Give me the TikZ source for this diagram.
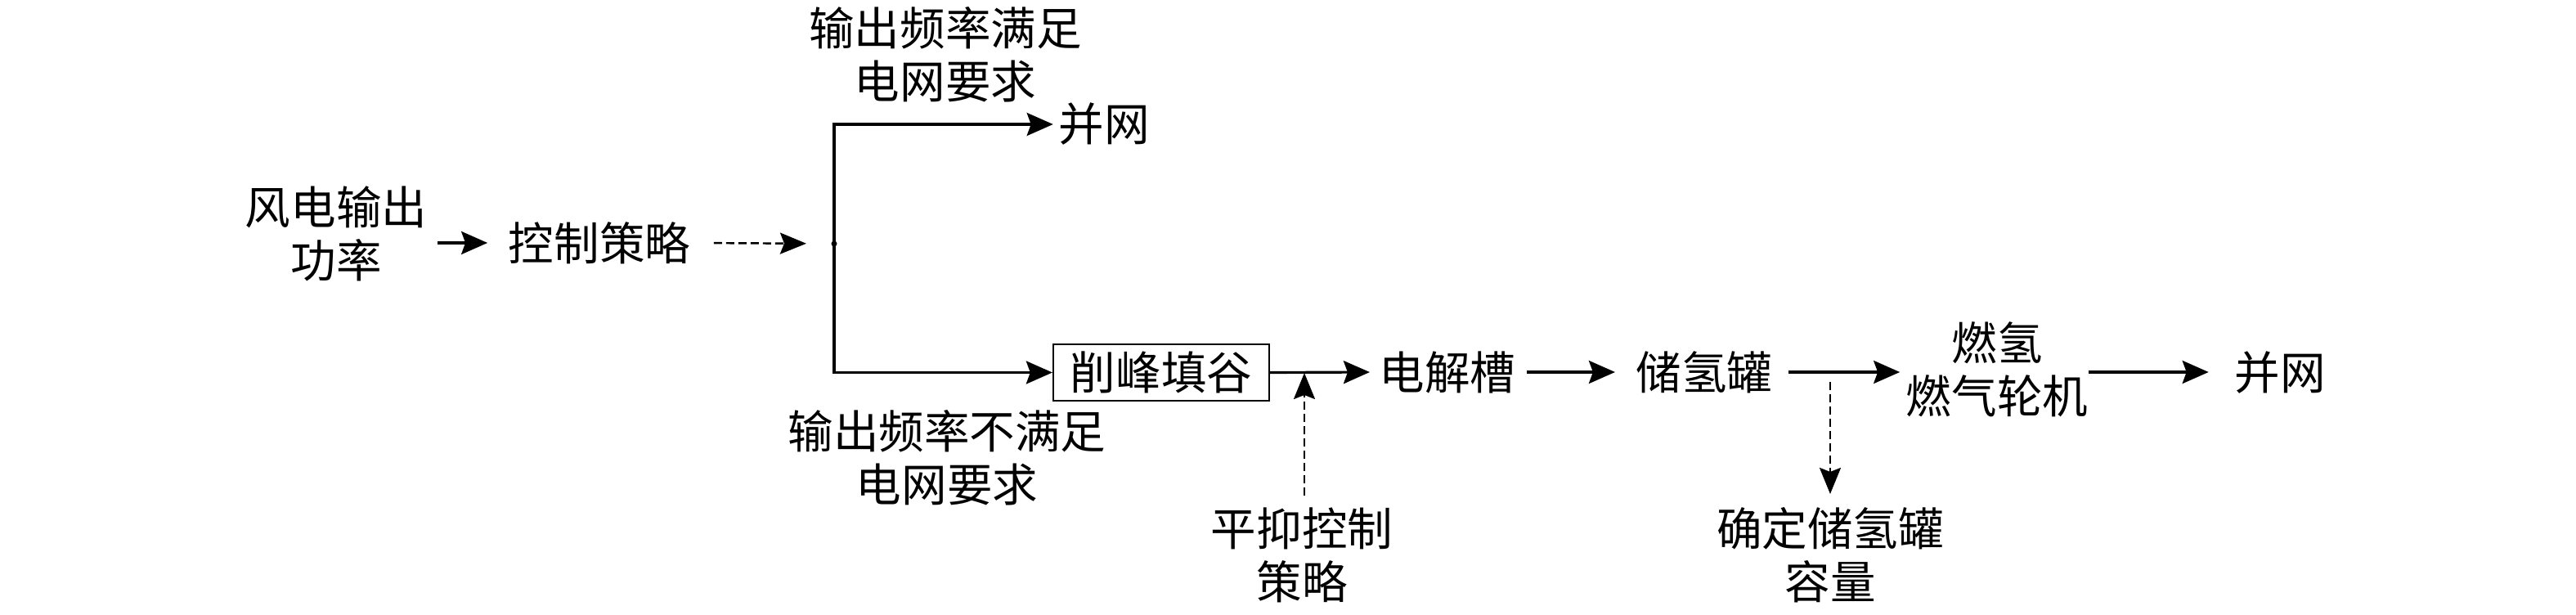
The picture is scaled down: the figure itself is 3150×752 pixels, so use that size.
\documentclass[tikz,border=0pt]{standalone}
\usepackage{fontspec}
\newfontfamily\cjk{Noto Sans CJK SC}
\usetikzlibrary{arrows.meta}
\tikzset{
  lbl/.style={inner sep=0pt, align=center, font=\cjk\fontsize{15.8pt}{18.5pt}\selectfont},
  arr/.style={line width=0.9pt, -{Stealth[length=0.32cm,width=0.28cm,inset=0.05cm]}},
  darr/.style={line width=0.7pt, dash pattern=on 0.1cm off 0.05cm, -{Stealth[length=0.32cm,width=0.26cm,inset=0.05cm]}},
  boxnode/.style={draw, line width=0.6pt, minimum width=2.64cm, minimum height=0.69cm, inner sep=0pt, font=\cjk\fontsize{15.8pt}{18.5pt}\selectfont}
}
\begin{document}
\begin{tikzpicture}[x=0.01cm,y=-0.01cm]
\useasboundingbox (0,0) rectangle (3150,752);
\node[lbl] (wind) at (411,286) {风电输出\\功率};
\node[lbl] (ctrl) at (733,297) {控制策略};
\coordinate (j) at (1020,298);
\fill (j) circle (0.035cm);
\node[lbl] (top) at (1156,67) {输出频率满足\\电网要求};
\node[lbl] (bing1) at (1350,152) {并网};
\node[boxnode] (pf) at (1420,455.5) {削峰填谷};
\node[lbl] (bot) at (1158,560) {输出频率不满足\\电网要求};
\node[lbl] (ping) at (1592,679) {平抑控制\\策略};
\node[lbl] (dj) at (1770,455) {电解槽};
\node[lbl] (cq) at (2084,455) {储氢罐};
\node[lbl] (rq) at (2442,452) {燃氢\\燃气轮机};
\node[lbl] (bing2) at (2788,455) {并网};
\node[lbl] (cap) at (2238,679) {确定储氢罐\\容量};
\coordinate (c1) at (1595,456);
\coordinate (c2) at (2238,456);

\draw[arr, shorten <=0.12cm, shorten >=0.25cm] (wind.east |- ctrl.west) -- (ctrl.west);
\draw[darr, shorten <=0.28cm, shorten >=0.34cm] (ctrl.east) -- (j);
\draw[arr, shorten >=0.06cm] (j) |- (bing1.west);
\draw[arr] (j) |- (pf.west);
\draw[arr, shorten >=0.11cm] (pf.east) -- (dj.west);
\draw[arr, shorten <=0.13cm, shorten >=0.25cm] (dj.east) -- (cq.west);
\draw[arr, shorten <=0.19cm, shorten >=0.07cm] (cq.east) -- (rq.west |- cq.east);
\draw[arr, shorten >=0.31cm] (rq.east |- bing2.west) -- (bing2.west);
\draw[darr, shorten <=0.11cm, shorten >=0.16cm] (c2) -- (cap.north);
\draw[darr, shorten <=0.14cm] (ping.north -| c1) -- (c1);
\end{tikzpicture}
\end{document}
